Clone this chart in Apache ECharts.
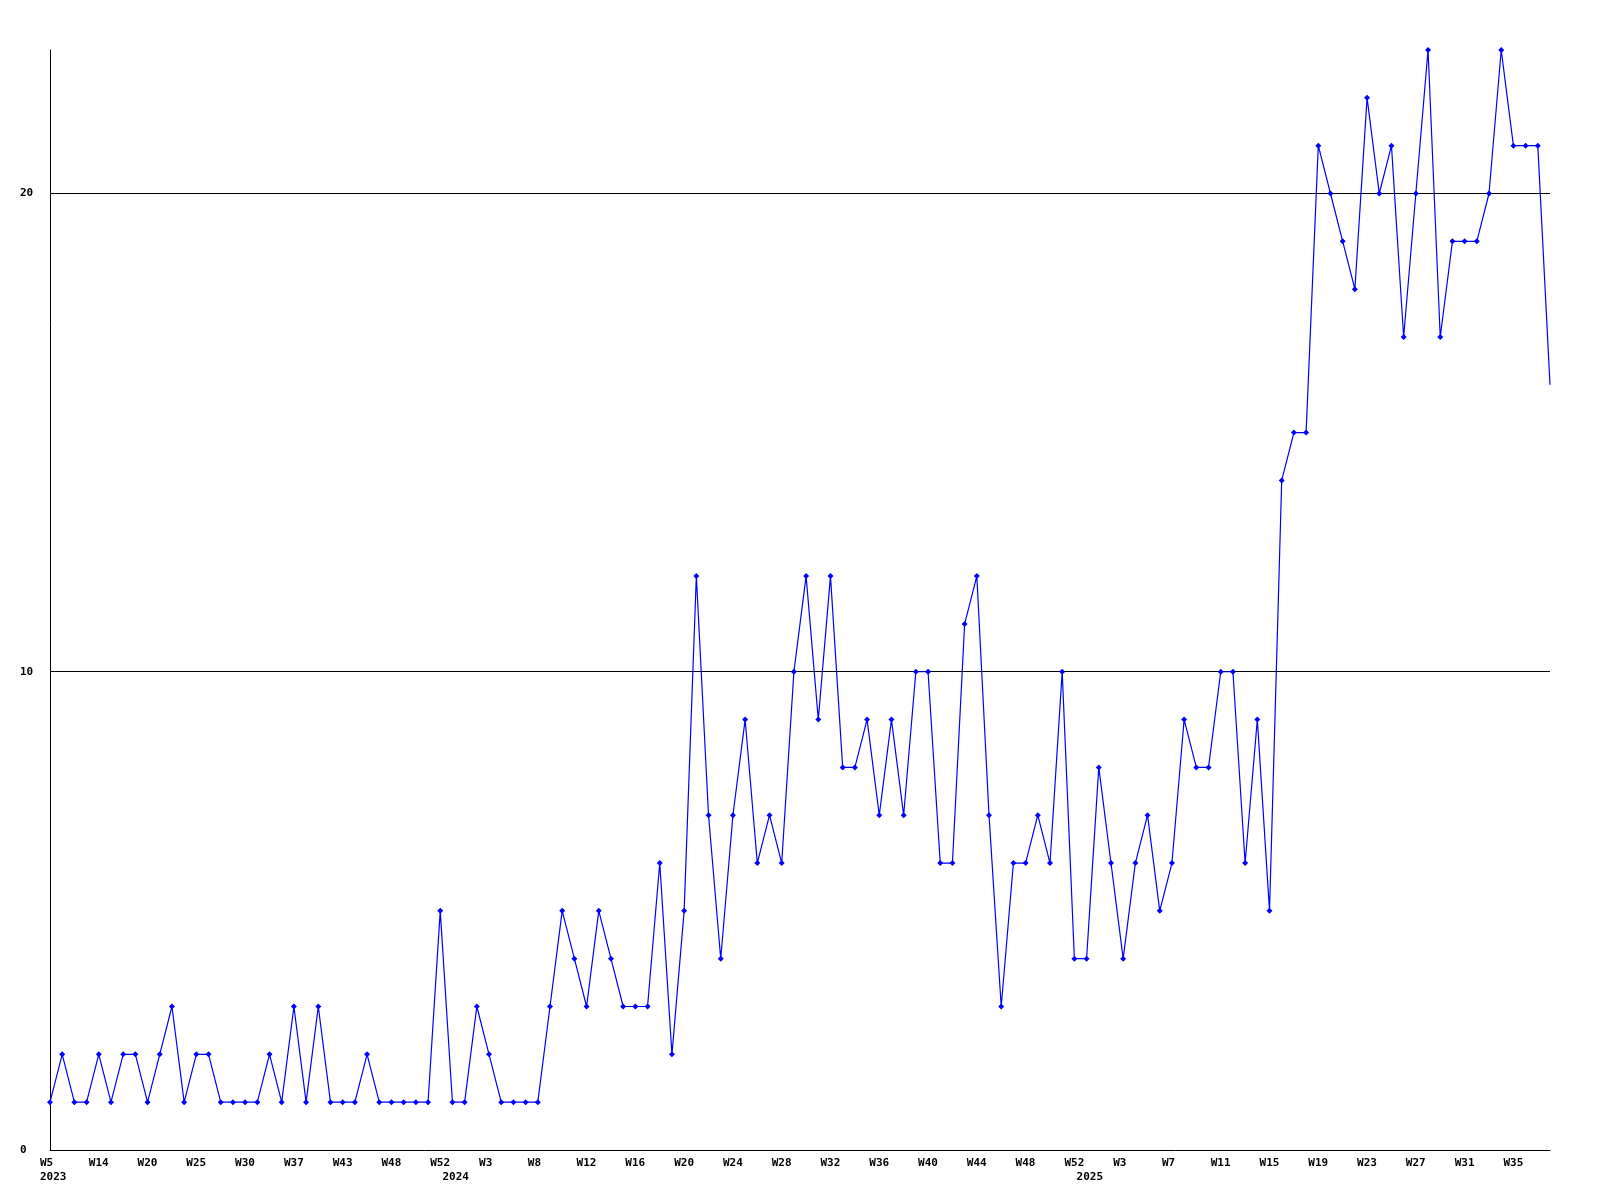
<!DOCTYPE html>
<html>
<head>
<meta charset="utf-8">
<script src="https://cdn.jsdelivr.net/npm/echarts@6/dist/echarts.min.js"></script>
<style>
  html, body { margin: 0; padding: 0; background: #ffffff; }
  #chart { width: 1600px; height: 1200px; }
</style>
</head>
<body>
<div id="chart"></div>
<script>
// Week categories per year (only every 4th is labelled on the axis)
const weeks2023 = ['W5','W7','W9','W12','W14','W15','W17','W18','W20','W21','W22','W24','W25','W26','W27','W28','W30','W32','W33','W35','W37','W38','W40','W41','W43','W44','W45','W47','W48','W49','W50','W51','W52'];
const weeks2024 = ['W0','W1','W2','W3','W4','W5','W7','W8','W9','W10','W11','W12','W13','W14','W15','W16','W17','W18','W19','W20','W21','W22','W23','W24','W25','W26','W27','W28','W29','W30','W31','W32','W33','W34','W35','W36','W37','W38','W39','W40','W41','W42','W43','W44','W45','W46','W47','W48','W49','W50','W51','W52'];
const weeks2025 = ['W0','W1','W2','W3','W4','W5','W6','W7','W8','W9','W10','W11','W12','W13','W14','W15','W16','W17','W18','W19','W20','W21','W22','W23','W24','W25','W26','W27','W28','W29','W30','W31','W32','W33','W34','W35','W36','W37','W38'];

const values2023 = [1,2,1,1,2,1,2,2,1,2,3,1,2,2,1,1,1,1,2,1,3,1,3,1,1,1,2,1,1,1,1,1,5];
const values2024 = [1,1,3,2,1,1,1,1,3,5,4,3,5,4,3,3,3,6,2,5,12,7,4,7,9,6,7,6,10,12,9,12,8,8,9,7,9,7,10,10,6,6,11,12,7,3,6,6,7,6,10,4];
const values2025 = [4,8,6,4,6,7,5,6,9,8,8,10,10,6,9,5,14,15,15,21,20,19,18,22,20,21,17,20,23,17,19,19,19,20,23,21,21,21,16];

const yearNames = ['2023','2024','2025'];
const yTicks = [0, 10, 20];

const weekParts = [weeks2023, weeks2024, weeks2025];
const valueParts = [values2023, values2024, values2025];

const categories = [];
const weekLabels = [];
const yearLabels = [];
const values = [];
weekParts.forEach((wk, yi) => {
  wk.forEach((w, wi) => {
    categories.push(yearNames[yi] + ' ' + w);
    weekLabels.push(w);
    yearLabels.push(wi === 0 ? yearNames[yi] : '');
  });
  valueParts[yi].forEach(v => values.push(v));
});

const FONT = '"DejaVu Sans Mono", "Liberation Mono", monospace';

const chart = echarts.init(document.getElementById('chart'), null, { renderer: 'canvas' });
chart.setOption({
  backgroundColor: '#ffffff',
  animation: false,
  grid: { left: 50, right: 50, top: 50, bottom: 50, containLabel: false },
  xAxis: [
    {
      type: 'category',
      data: categories,
      boundaryGap: false,
      position: 'bottom',
      axisLine: { show: true, lineStyle: { color: '#000000', width: 1 } },
      axisTick: { show: false },
      splitLine: { show: false },
      axisLabel: {
        interval: 3,
        margin: 8,
        align: 'left',
        padding: [0, 0, 0, -10],
        color: '#000000',
        fontFamily: FONT,
        fontWeight: 'bold',
        fontSize: 11,
        formatter: (val, idx) => weekLabels[idx]
      }
    },
    {
      type: 'category',
      data: categories,
      boundaryGap: false,
      position: 'bottom',
      offset: 15,
      axisLine: { show: false },
      axisTick: { show: false },
      splitLine: { show: false },
      axisLabel: {
        interval: 0,
        margin: 7,
        align: 'left',
        padding: [0, 0, 0, -10],
        color: '#000000',
        fontFamily: FONT,
        fontWeight: 'bold',
        fontSize: 11,
        formatter: (val, idx) => yearLabels[idx]
      }
    }
  ],
  yAxis: {
    type: 'value',
    min: 0,
    max: 23,
    interval: 10,
    axisLine: { show: true, lineStyle: { color: '#000000', width: 1 } },
    axisTick: { show: false },
    splitLine: { show: true, showMinLine: false, showMaxLine: false, lineStyle: { color: '#000000', width: 1 } },
    axisLabel: {
      showMaxLabel: false,
      align: 'left',
      margin: 30,
      color: '#000000',
      fontFamily: FONT,
      fontWeight: 'bold',
      fontSize: 11,
      formatter: (v) => (yTicks.indexOf(v) >= 0 ? String(v) : '')
    }
  },
  series: [{
    type: 'line',
    xAxisIndex: 0,
    data: values.map((v, i) => i === values.length - 1 ? { value: v, symbol: 'none' } : v),
    symbol: 'diamond',
    symbolSize: 6,
    showAllSymbol: true,
    lineStyle: { color: '#0000ff', width: 1.2 },
    itemStyle: { color: '#0000ff' },
    emphasis: { disabled: true }
  }]
});
</script>
</body>
</html>
